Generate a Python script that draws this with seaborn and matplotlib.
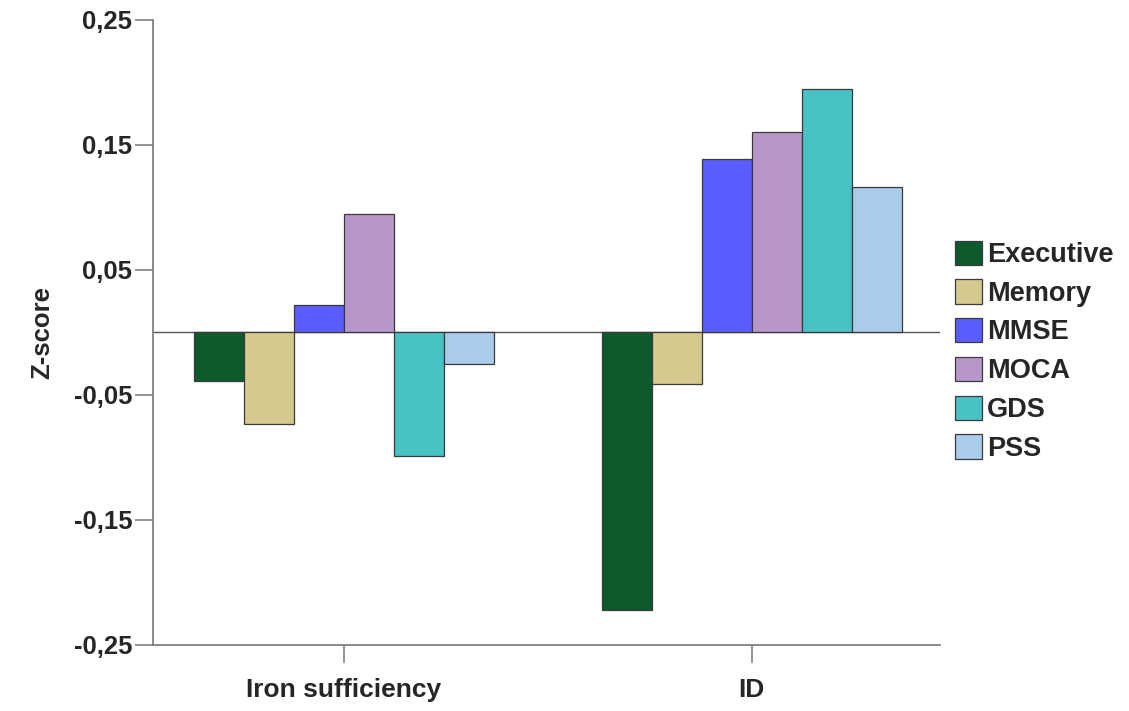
import numpy as np
import pandas as pd
import seaborn as sns
import matplotlib.pyplot as plt

groups = ["Iron sufficiency", "ID"]
measures = ["Executive", "Memory", "MMSE", "MOCA", "GDS", "PSS"]
iron_sufficiency = [-0.039, -0.073, 0.022, 0.095, -0.099, -0.025]
iron_deficiency = [-0.222, -0.041, 0.139, 0.160, 0.195, 0.116]
colors = ["#0d5a2d", "#d4ca90", "#5a5cff", "#b797c9", "#47c2c5", "#aacbea"]
yticks = [-0.25, -0.15, -0.05, 0.05, 0.15, 0.25]

df = pd.DataFrame({
    "group": np.repeat(groups, len(measures)),
    "measure": measures * 2,
    "value": iron_sufficiency + iron_deficiency,
})

sns.set_style("white")
plt.rcParams["font.family"] = ["Liberation Sans", "DejaVu Sans"]
plt.rcParams["font.weight"] = "bold"

fig = plt.figure(figsize=(11.29, 7.11), dpi=100)
ax = fig.add_axes([0.1355, 0.093, 0.697, 0.879])

sns.barplot(data=df, x="group", y="value", hue="measure", hue_order=measures,
            palette=colors, width=0.735, gap=0, edgecolor="#3a3a3a", linewidth=0.9,
            saturation=1, errorbar=None, ax=ax)

ax.axhline(0, color="#555555", linewidth=1.0, zorder=0)
ax.set_ylim(-0.25, 0.25)
ax.set_xlim(-0.468, 1.461)
ax.set_yticks(yticks)
ax.set_yticklabels([f"{t:.2f}".replace(".", ",") for t in yticks], fontsize=18.5, fontweight="bold")
ax.set_xticks([0, 1])
ax.set_xticklabels(groups, fontsize=19, fontweight="bold")
ax.set_xlabel("")
ax.set_ylabel("Z-score", fontsize=18.5, fontweight="bold")
ax.yaxis.set_label_coords(-0.125, 0.5)

for s in ["top", "right"]:
    ax.spines[s].set_visible(False)
for s in ["left", "bottom"]:
    ax.spines[s].set_color("#777777")
    ax.spines[s].set_linewidth(1.2)
ax.tick_params(axis="y", direction="out", length=13, width=1.1, color="#777777", pad=2, left=True)
ax.tick_params(axis="x", direction="out", length=13, width=1.1, color="#777777", pad=11, bottom=True)

ax.legend(loc="upper left", bbox_to_anchor=(1.019, 0.647), frameon=False,
          prop={"size": 19.5, "weight": "bold"}, handlelength=1.0, handleheight=1.0,
          handletextpad=0.18, labelspacing=0.42, borderaxespad=0, borderpad=0)

fig.savefig("out.png", dpi=100)
